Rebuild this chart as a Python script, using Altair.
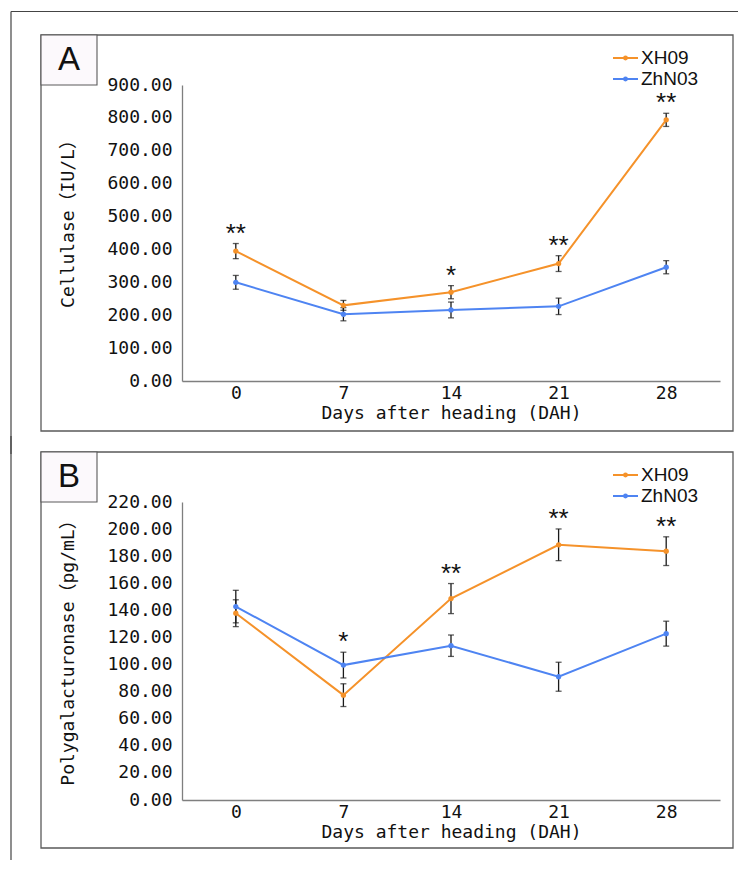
import altair as alt
import pandas as pd

# ---------------- data ----------------
days = [0, 7, 14, 21, 28]
series_names = ["XH09", "ZhN03"]
series_colors = ["#f5922a", "#4e84f2"]

# Panel A: Cellulase (IU/L)
cel_xh09 = [395, 230, 270, 357, 794]
cel_xh09_err = [23, 15, 20, 24, 20]
cel_zhn03 = [300, 203, 216, 227, 346]
cel_zhn03_err = [21, 20, 24, 25, 20]
cel_sig = ["**", "", "*", "**", "**"]
cel_ticks = [0, 100, 200, 300, 400, 500, 600, 700, 800, 900]

# Panel B: Polygalacturonase (pg/mL)
pg_xh09 = [137.9, 77.4, 148.7, 188.4, 183.7]
pg_xh09_err = [9.9, 8.4, 11.1, 11.7, 10.6]
pg_zhn03 = [142.8, 99.6, 113.9, 91.0, 122.8]
pg_zhn03_err = [12.0, 9.5, 7.9, 10.7, 9.2]
pg_sig = ["", "*", "**", "**", "**"]
pg_ticks = [0, 20, 40, 60, 80, 100, 120, 140, 160, 180, 200, 220]

MONO = "DejaVu Sans Mono, Noto Sans CJK SC, monospace"
NARROW = "Liberation Sans Narrow, Liberation Sans, Arial, sans-serif"
SANS = "Liberation Sans, Arial, sans-serif"
AXIS_COLOR = "#7f7f7f"
BOX_COLOR = "#5a5a5a"

W = 538


def one():
    return alt.Data(values=[{"k": 0}])


def panel(letter, xh, xh_err, zh, zh_err, sig, ticks, ytitle, height,
          title_y, box_top, box_bottom, left_top, left_bottom, top_line):
    rows = []
    for name, vals, errs in ((series_names[0], xh, xh_err), (series_names[1], zh, zh_err)):
        for d, v, e in zip(days, vals, errs):
            rows.append({"series": name, "day": d, "value": v, "lo": v - e, "hi": v + e})
    df = pd.DataFrame(rows)
    tops = df.groupby("day")["hi"].max().reindex(days).tolist()
    stars = pd.DataFrame({"day": days, "top": tops, "sig": sig})
    stars = stars[stars["sig"] != ""]

    ymax = ticks[-1]
    yscale = alt.Scale(domain=[0, ymax], nice=False, zero=True)
    xscale = alt.Scale(type="point", padding=0.5)
    ax_x = alt.Axis(title="Days after heading (DAH)", labelAngle=0, ticks=False, tickSize=0,
                    grid=False, domainColor=AXIS_COLOR, domainWidth=1.3, zindex=1,
                    labelFont=MONO, labelFontSize=18, labelColor="#111", labelPadding=3,
                    titleFont=MONO, titleFontSize=18, titleFontWeight="normal", titleColor="#111",
                    titleY=32, titleBaseline="middle")
    ax_y = alt.Axis(title=ytitle, values=ticks, format=".2f", ticks=False, tickSize=0, grid=False,
                    domainColor=AXIS_COLOR, domainWidth=1.3, zindex=1,
                    labelFont=MONO, labelFontSize=18, labelColor="#111", labelPadding=10,
                    titleFont=MONO, titleFontSize=18, titleFontWeight="normal", titleColor="#111",
                    titleAngle=270, titleX=-114, titleY=title_y, titleAlign="center",
                    titleBaseline="middle")
    X = alt.X("day:O", scale=xscale, axis=ax_x)
    color = alt.Color("series:N", scale=alt.Scale(domain=series_names, range=series_colors), legend=None)

    box = alt.Chart(one()).mark_rect(fill="white", stroke=BOX_COLOR, strokeWidth=1.3).encode(
        x=alt.value(-141), x2=alt.value(551), y=alt.value(box_top), y2=alt.value(box_bottom))
    lbox = alt.Chart(one()).mark_rect(fill="#fcf9fc", stroke=BOX_COLOR, strokeWidth=1.1).encode(
        x=alt.value(-141), x2=alt.value(-85), y=alt.value(box_top), y2=alt.value(0))
    ltxt = alt.Chart(one()).mark_text(text=letter, font=NARROW, fontSize=33, align="center",
                                      baseline="middle", color="#111").encode(
        x=alt.value(-113), y=alt.value(box_top / 2))
    left = alt.Chart(one()).mark_rule(color="#444", strokeWidth=1.2).encode(
        x=alt.value(-171), y=alt.value(left_top), y2=alt.value(left_bottom))
    layers = [box, lbox, ltxt, left]
    if top_line is not None:
        layers.append(alt.Chart(one()).mark_rule(color="#444", strokeWidth=1.2).encode(
            x=alt.value(-171), x2=alt.value(556), y=alt.value(top_line)))

    base = alt.Chart(df)
    lines = base.mark_line(strokeWidth=2).encode(
        x=X, y=alt.Y("value:Q", scale=yscale, axis=ax_y), color=color, detail="series:N")
    err = base.mark_rule(color="#1a1a1a", strokeWidth=1.3).encode(
        x=X, y=alt.Y("lo:Q", scale=yscale, axis=ax_y), y2="hi:Q")
    cap_lo = base.mark_tick(color="#1a1a1a", thickness=1.3, size=6, orient="horizontal").encode(
        x=X, y=alt.Y("lo:Q", scale=yscale, axis=ax_y))
    cap_hi = base.mark_tick(color="#1a1a1a", thickness=1.3, size=6, orient="horizontal").encode(
        x=X, y=alt.Y("hi:Q", scale=yscale, axis=ax_y))
    pts = base.mark_point(filled=True, size=28, opacity=1).encode(
        x=X, y=alt.Y("value:Q", scale=yscale, axis=ax_y), color=color)
    st = alt.Chart(stars).mark_text(font=SANS, fontSize=26, align="center", baseline="alphabetic",
                                    dy=-2, color="#111").encode(
        x=X, y=alt.Y("top:Q", scale=yscale, axis=ax_y), text="sig:N")
    layers += [lines, err, cap_lo, cap_hi, pts, st]

    # legend
    for i, (name, col) in enumerate(zip(series_names, series_colors)):
        ly = -27 + i * 21
        layers.append(alt.Chart(one()).mark_rule(color=col, strokeWidth=2).encode(
            x=alt.value(431), x2=alt.value(456), y=alt.value(ly)))
        layers.append(alt.Chart(one()).mark_point(filled=True, size=24, color=col, opacity=1).encode(
            x=alt.value(443.5), y=alt.value(ly)))
        layers.append(alt.Chart(one()).mark_text(text=name, font=NARROW, fontSize=19, align="left",
                                                 baseline="middle", color="#111").encode(
            x=alt.value(459), y=alt.value(ly)))

    return alt.layer(*layers).properties(width=W, height=height)


pA = panel("A", cel_xh09, cel_xh09_err, cel_zhn03, cel_zhn03_err, cel_sig, cel_ticks,
           "Cellulase（IU/L）", 296, 134, -50, 346, -73.5, 369, -73.5)
pB = panel("B", pg_xh09, pg_xh09_err, pg_zhn03, pg_zhn03_err, pg_sig, pg_ticks,
           "Polygalacturonase（pg/mL）", 298, 146, -50, 346, -66, 358, None)

chart = alt.vconcat(pA, pB, spacing=-20).properties(
    padding={"left": 2, "top": 2, "right": 2, "bottom": 2}
).configure_view(stroke=None)

chart.save("out.html", embed_options={"renderer": "svg", "actions": False})
